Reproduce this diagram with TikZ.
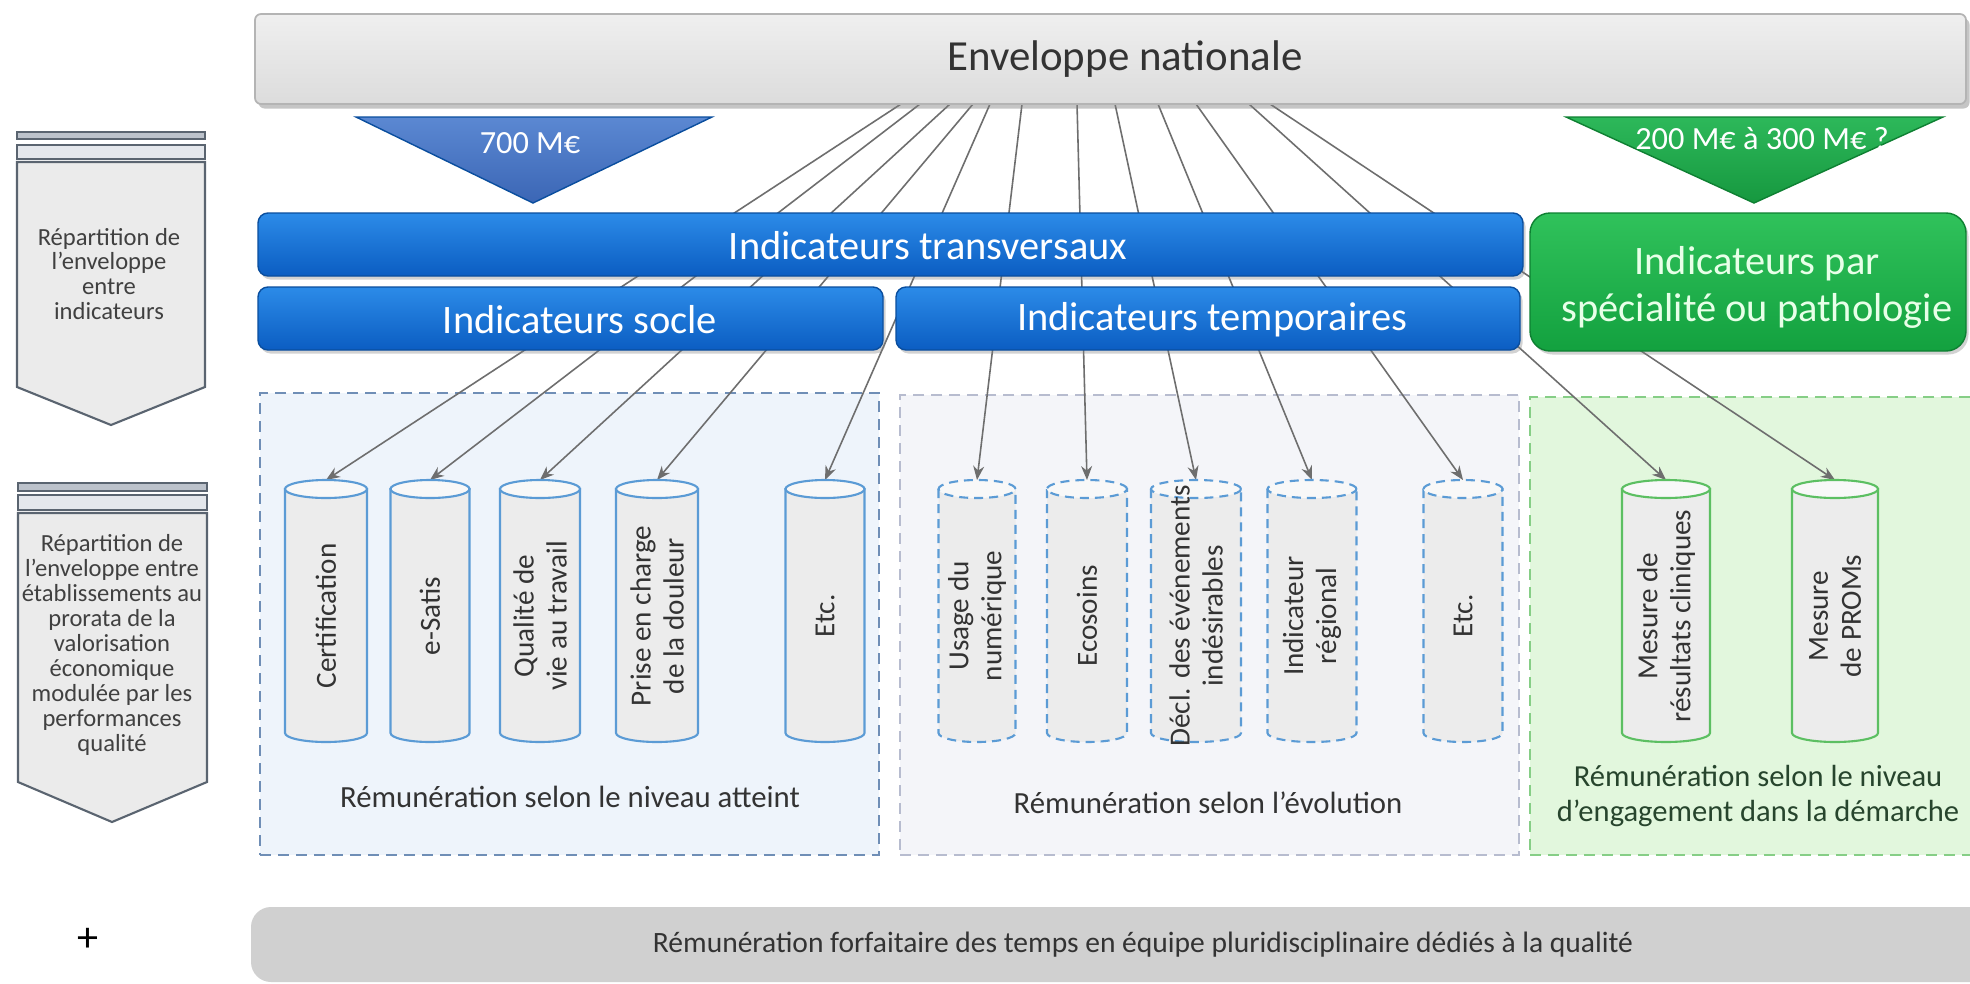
\documentclass[tikz,border=0pt]{standalone}
\usepackage{fontspec}
\setmainfont{Carlito}
\usetikzlibrary{arrows.meta,shadows}
\pgfdeclarelayer{bg}
\pgfdeclarelayer{wires}
\pgfsetlayers{bg,wires,main}

\definecolor{envTop}{HTML}{EFEFEF}
\definecolor{envBot}{HTML}{DCDCDC}
\definecolor{envLine}{HTML}{B4B4B4}
\definecolor{barTop}{HTML}{2C8BE8}
\definecolor{barBot}{HTML}{0B5DC2}
\definecolor{barLine}{HTML}{0A4E9E}
\definecolor{grnTop}{HTML}{30C25B}
\definecolor{grnBot}{HTML}{13A13F}
\definecolor{grnLine}{HTML}{0E8032}
\definecolor{triBlueTop}{HTML}{5B88D2}
\definecolor{triBlueBot}{HTML}{3B66B5}
\definecolor{triGrnTop}{HTML}{2DB85A}
\definecolor{triGrnBot}{HTML}{16983F}
\definecolor{penFill}{HTML}{EBEBEB}
\definecolor{penLine}{HTML}{5A6470}
\definecolor{penStripe}{HTML}{BCC2CB}
\definecolor{penStripeB}{HTML}{E4E7EC}
\definecolor{penInk}{HTML}{404040}
\definecolor{socFill}{HTML}{EEF4FB}
\definecolor{socLine}{HTML}{6F8EB6}
\definecolor{tmpFill}{HTML}{F4F5F9}
\definecolor{tmpLine}{HTML}{B7BCCF}
\definecolor{spFill}{HTML}{E2F7DD}
\definecolor{spLine}{HTML}{86CE86}
\definecolor{cylBody}{HTML}{ECECEC}
\definecolor{cylTop}{HTML}{F8F8F8}
\definecolor{cylBlue}{HTML}{5B9BD5}
\definecolor{cylGreen}{HTML}{5CBF62}
\definecolor{wire}{HTML}{6E6E6E}
\definecolor{ink}{HTML}{333333}
\definecolor{inkGreen}{HTML}{27452D}
\definecolor{footFill}{HTML}{D0D0D0}
\definecolor{spText}{HTML}{E8FFE8}

% one indicator drum: name, centre x, width (mm), outline style, label
\newcommand\drumshape[5]{%
  \node[drum, minimum width=#3mm] (#1) at (#2,611) {};
  \path[#4, fill=cylBody] ([yshift=-0.9mm]#1.north west) -- ([yshift=0.9mm]#1.south west)
     arc[start angle=180, end angle=360, x radius=#3mm/2, y radius=0.9mm]
     -- ([yshift=-0.9mm]#1.north east) -- cycle;
  \path[#4, fill=cylTop] ([yshift=-0.9mm]#1.north) ellipse[x radius=#3mm/2, y radius=0.9mm];
  \node[drumtext] (#1-t) at ([yshift=-0.5mm]#1.center) {#5};
}

\begin{document}
\begin{tikzpicture}[x=0.1mm, y=-0.1mm,
  every node/.style={inner sep=0pt, outer sep=0pt},
  envbox/.style={draw=envLine, line width=0.5pt, rounded corners=0.6mm,
    top color=envTop, bottom color=envBot,
    drop shadow={shadow xshift=0.35mm, shadow yshift=-0.45mm, opacity=0.45}},
  bluebar/.style={draw=barLine, line width=0.4pt, rounded corners=1mm,
    top color=barTop, bottom color=barBot,
    drop shadow={shadow xshift=0.25mm, shadow yshift=-0.35mm, opacity=0.35}},
  greenbar/.style={draw=grnLine, line width=0.4pt, rounded corners=2mm,
    top color=grnTop, bottom color=grnBot,
    drop shadow={shadow xshift=0.25mm, shadow yshift=-0.35mm, opacity=0.35}},
  bartext/.style={text=white, font=\fontsize{11.5}{13}\selectfont},
  envtext/.style={text=ink, font=\fontsize{12.2}{14}\selectfont},
  tritext/.style={text=white, font=\fontsize{9.2}{11}\selectfont},
  pentext/.style={text=penInk, align=center, font=\fontsize{7}{7.1}\selectfont},
  penbody/.style={draw=penLine, line width=0.6pt, fill=penFill},
  remtext/.style={text=ink, align=center, font=\fontsize{8.75}{10}\selectfont},
  zone/.style={line width=0.6pt, dash pattern=on 1.1mm off 0.7mm},
  drum/.style={minimum height=26.2mm, draw=none},
  drumtext/.style={rotate=90, align=center, text=ink, font=\fontsize{8.3}{9.4}\selectfont},
  solidblue/.style={draw=cylBlue, line width=0.6pt},
  dashblue/.style={draw=cylBlue, line width=0.6pt, dash pattern=on 0.9mm off 0.6mm},
  solidgreen/.style={draw=cylGreen, line width=0.6pt},
  conn/.style={draw=wire, line width=0.45pt, -{Stealth[length=1.4mm, width=1.1mm]}}
]
\useasboundingbox (0,0) rectangle (1970,983);

% ---------- background and dashed zones ----------
\begin{pgfonlayer}{bg}
  \fill[white] (0,0) rectangle (1970,983);
  \node[zone, draw=socLine, fill=socFill, minimum width=61.9mm, minimum height=46.2mm] (socZone) at (569.5,624) {};
  \node[zone, draw=tmpLine, fill=tmpFill, minimum width=61.9mm, minimum height=46mm] (tmpZone) at (1209.5,625) {};
  \node[zone, draw=spLine, fill=spFill, minimum width=45mm, minimum height=45.8mm] (spZone) at (1755,626) {};
\end{pgfonlayer}

% ---------- national envelope and allocations ----------
\node[envbox, minimum width=171.1mm, minimum height=9mm] (env) at (1110.5,59) {};
\node[envtext] (envT) at (1125,59) {Enveloppe nationale};

\path[draw=barLine, line width=0.4pt, top color=triBlueTop, bottom color=triBlueBot]
  (356,117) -- (712,117) -- (533,203) -- cycle;
\node[tritext] (m700) at (530,143) {700 M€};
\path[draw=grnLine, line width=0.4pt, top color=triGrnTop, bottom color=triGrnBot]
  (1566,117) -- (1943,117) -- (1754,203) -- cycle;
\node[tritext] (m200) at (1762,139) {200 M€ à 300 M€ ?};

% ---------- indicator families ----------
\node[bluebar, minimum width=126.5mm, minimum height=6.3mm] (trans) at (890.5,244.5) {};
\node[bartext] (transT) at (928,246) {Indicateurs transversaux};
\node[bluebar, minimum width=62.5mm, minimum height=6.3mm] (socle) at (570.5,318.5) {};
\node[bartext] (socleT) at (580,320) {Indicateurs socle};
\node[bluebar, minimum width=62.4mm, minimum height=6.3mm] (temp) at (1208,318.5) {};
\node[bartext] (tempT) at (1212,320) {Indicateurs temporaires};
\node[greenbar, minimum width=43.6mm, minimum height=13.8mm] (spec) at (1748,282) {};
\node[bartext, text=spText, align=center, font=\fontsize{11.5}{13.4}\selectfont] (specT) at (1757,287)
  {Indicateurs par\\spécialité ou pathologie};

% ---------- left-hand steps ----------
\draw[penbody, fill=penStripe] (17,132) rectangle (205,139);
\draw[penbody, fill=penStripeB] (17,145) rectangle (205,159);
\draw[penbody] (17,162) -- (205,162) -- (205,387) -- (111,425) -- (17,387) -- cycle;
\node[pentext] (penA) at (109,274) {Répartition de\\l’enveloppe\\entre\\indicateurs};

\draw[penbody, fill=penStripe] (18,483) rectangle (207,491);
\draw[penbody, fill=penStripeB] (18,495) rectangle (207,510);
\draw[penbody] (18,513) -- (207,513) -- (207,782) -- (112,822) -- (18,782) -- cycle;
\node[pentext] (penB) at (112,645) {Répartition de\\l’enveloppe entre\\établissements au\\prorata de la\\valorisation\\économique\\modulée par les\\performances\\qualité};

% ---------- indicators ----------
\drumshape{c1}{326}{8.2}{solidblue}{Certification}
\drumshape{c2}{430}{7.9}{solidblue}{e-Satis}
\drumshape{c3}{540}{8.0}{solidblue}{Qualité de\\vie au travail}
\drumshape{c4}{657}{8.2}{solidblue}{Prise en charge\\de la douleur}
\drumshape{c5}{825}{7.9}{solidblue}{Etc.}

\drumshape{t1}{977}{7.7}{dashblue}{Usage du\\numérique}
\drumshape{t2}{1087}{8.0}{dashblue}{Ecosoins}
\drumshape{t3}{1196}{9.0}{dashblue}{Décl. des événements\\indésirables}
\drumshape{t4}{1312}{8.9}{dashblue}{Indicateur\\régional}
\drumshape{t5}{1463}{7.9}{dashblue}{Etc.}

\drumshape{g1}{1666}{8.8}{solidgreen}{Mesure de\\résultats cliniques}
\drumshape{g2}{1835}{8.6}{solidgreen}{Mesure\\de PROMs}

\node[remtext] (socR) at (570,797) {Rémunération selon le niveau atteint};
\node[remtext] (tmpR) at (1208,803) {Rémunération selon l’évolution};
\node[remtext, text=inkGreen, font=\fontsize{8.7}{10}\selectfont] (spR) at (1758,796)
  {Rémunération selon le niveau\\d’engagement dans la démarche};

% ---------- flows from the envelope ----------
\begin{pgfonlayer}{wires}
  \foreach \x/\t [count=\i] in {901/c1, 920/c2, 950/c3, 973/c4, 990/c5,
                               1022/t1, 1077/t2, 1115/t3, 1158/t4, 1196/t5,
                               1249/g1, 1270/g2} {
    \coordinate (e\i) at (\x,104);
    \draw[conn] (e\i) -- (\t.north);
  }
\end{pgfonlayer}

% ---------- flat-rate part ----------
\node[font=\fontsize{12}{14}\selectfont, text=black] (plus) at (88,940) {+};
\node[fill=footFill, rounded corners=2mm, minimum width=173.9mm, minimum height=7.5mm] (foot) at (1120.5,944.5) {};
\node[text=ink, font=\fontsize{8.4}{10}\selectfont] (footT) at (1143,945)
  {Rémunération forfaitaire des temps en équipe pluridisciplinaire dédiés à la qualité};

\end{tikzpicture}
\end{document}
